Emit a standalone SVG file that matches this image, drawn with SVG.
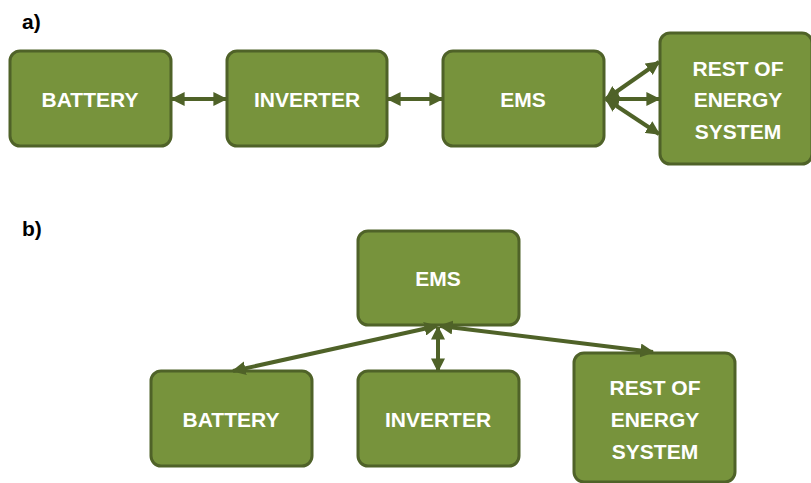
<svg xmlns="http://www.w3.org/2000/svg" width="811" height="483" viewBox="0 0 811 483">
<style>
.box{fill:#77933C;stroke:#4F6228;stroke-width:3}
.t{fill:#fff;font-family:"Liberation Sans",Arial,sans-serif;font-weight:bold;font-size:21px;text-anchor:middle;dominant-baseline:central}
.lbl{fill:#000;font-family:"Liberation Sans",Arial,sans-serif;font-weight:bold;font-size:21px}
.c{stroke:#4F6228;stroke-width:4;fill:none;marker-start:url(#ah);marker-end:url(#ah)}
</style>
<defs>
<marker id="ah" viewBox="0 0 10 10" refX="9" refY="5" markerWidth="14" markerHeight="14" markerUnits="userSpaceOnUse" orient="auto-start-reverse">
<path d="M0,0 L10,5 L0,10 Z" fill="#4F6228"/>
</marker>
</defs>
<rect width="811" height="483" fill="#fff"/>
<text class="lbl" x="22" y="29">a)</text>
<text class="lbl" x="22" y="236">b)</text>
<g id="a-battery"><rect class="box" x="10" y="51" width="161" height="95" rx="10"/><text class="t" x="90" y="99">BATTERY</text></g>
<g id="a-inverter"><rect class="box" x="227" y="51" width="160" height="95" rx="10"/><text class="t" x="307" y="99">INVERTER</text></g>
<g id="a-ems"><rect class="box" x="443" y="51" width="161" height="95" rx="10"/><text class="t" x="523" y="99">EMS</text></g>
<g id="a-rest"><rect class="box" x="660" y="33" width="152" height="131" rx="10"/><text class="t" x="738" y="68">REST OF</text><text class="t" x="738" y="99">ENERGY</text><text class="t" x="738" y="131">SYSTEM</text></g>
<g id="b-ems"><rect class="box" x="358" y="231" width="161" height="94" rx="10"/><text class="t" x="438" y="278">EMS</text></g>
<g id="b-battery"><rect class="box" x="151" y="371" width="161" height="95" rx="10"/><text class="t" x="231" y="419">BATTERY</text></g>
<g id="b-inverter"><rect class="box" x="358" y="371" width="161" height="95" rx="10"/><text class="t" x="438" y="419">INVERTER</text></g>
<g id="b-rest"><rect class="box" x="574" y="353" width="161" height="129" rx="10"/><text class="t" x="655" y="387">REST OF</text><text class="t" x="655" y="419">ENERGY</text><text class="t" x="655" y="451">SYSTEM</text></g>
<g id="connectors">
<line class="c" x1="172" y1="99" x2="226" y2="99"/>
<line class="c" x1="388" y1="99" x2="442" y2="99"/>
<line class="c" x1="606" y1="99" x2="659" y2="62"/>
<line class="c" x1="606" y1="99" x2="659" y2="99"/>
<line class="c" x1="606" y1="99" x2="659" y2="134"/>
<line class="c" x1="437" y1="326" x2="233" y2="371"/>
<line class="c" x1="438" y1="327" x2="438" y2="371"/>
<line class="c" x1="440" y1="326" x2="653" y2="352"/>
</g>
</svg>
